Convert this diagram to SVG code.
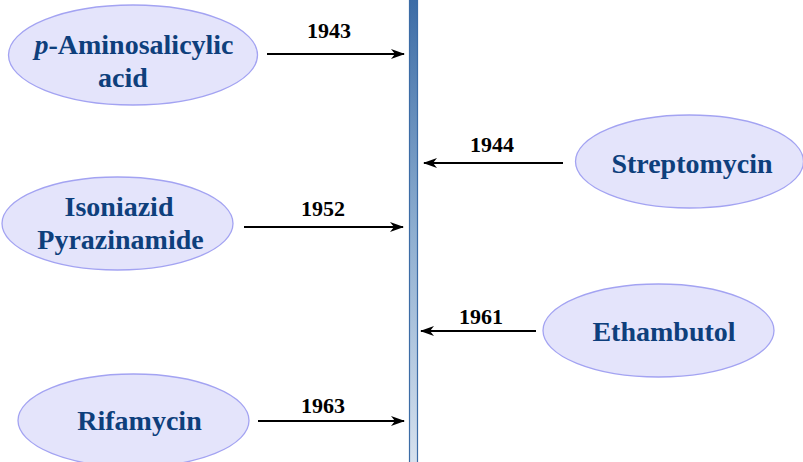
<svg xmlns="http://www.w3.org/2000/svg" width="803" height="462" viewBox="0 0 803 462">
<style>
.node ellipse{fill:#e4e4fb;stroke:#a3a3f2;stroke-width:1.3}
.lbl{font-family:"Liberation Serif","Times New Roman",serif;font-weight:bold;font-size:28px;fill:#0e3f7c;text-anchor:middle}
.yr{font-family:"Liberation Serif","Times New Roman",serif;font-weight:bold;font-size:22px;fill:#000;text-anchor:middle}
.conn line{stroke:#000;stroke-width:2;marker-end:url(#ah)}
</style>
<defs>
<marker id="ah" markerWidth="14" markerHeight="10" refX="13" refY="5" orient="auto" markerUnits="userSpaceOnUse">
<path d="M0,0 L14,5 L0,10 L4,5 Z" fill="#000"/>
</marker>
<linearGradient id="bar" x1="0" y1="0" x2="0" y2="1">
<stop offset="0" stop-color="#3c6ca6"/>
<stop offset="0.5" stop-color="#8eaed0"/>
<stop offset="1" stop-color="#d6e1ee"/>
</linearGradient>
</defs>
<rect width="803" height="462" fill="#fff"/>
<g id="timeline">
<rect x="409.5" y="-1" width="8" height="464" fill="url(#bar)" stroke="#3c6ca6" stroke-width="1.2"/>
</g>
<g class="conn" id="connectors">
<line x1="267" y1="54" x2="404" y2="54"/>
<line x1="563" y1="163" x2="424" y2="163"/>
<line x1="244" y1="227" x2="403" y2="227"/>
<line x1="536" y1="331" x2="421" y2="331"/>
<line x1="258" y1="421" x2="404" y2="421"/>
<text class="yr" x="329" y="38">1943</text>
<text class="yr" x="492" y="152">1944</text>
<text class="yr" x="323" y="216">1952</text>
<text class="yr" x="481" y="324">1961</text>
<text class="yr" x="323" y="413">1963</text>
</g>
<g class="node" id="pas">
<ellipse cx="133" cy="55" rx="124.5" ry="50"/>
<text class="lbl" x="134" y="54"><tspan font-style="italic">p</tspan>-Aminosalicylic</text>
<text class="lbl" x="123" y="87">acid</text>
</g>
<g class="node" id="streptomycin">
<ellipse cx="689.5" cy="161.5" rx="114" ry="46.5"/>
<text class="lbl" x="692" y="173">Streptomycin</text>
</g>
<g class="node" id="isoniazid">
<ellipse cx="117.5" cy="223.5" rx="115.5" ry="46.5"/>
<text class="lbl" x="119" y="216">Isoniazid</text>
<text class="lbl" x="120.5" y="249">Pyrazinamide</text>
</g>
<g class="node" id="ethambutol">
<ellipse cx="658.5" cy="330.5" rx="115.5" ry="46.5"/>
<text class="lbl" x="664" y="341">Ethambutol</text>
</g>
<g class="node" id="rifamycin">
<ellipse cx="133.5" cy="420.5" rx="115.5" ry="46.5"/>
<text class="lbl" x="139.5" y="430">Rifamycin</text>
</g>
</svg>
